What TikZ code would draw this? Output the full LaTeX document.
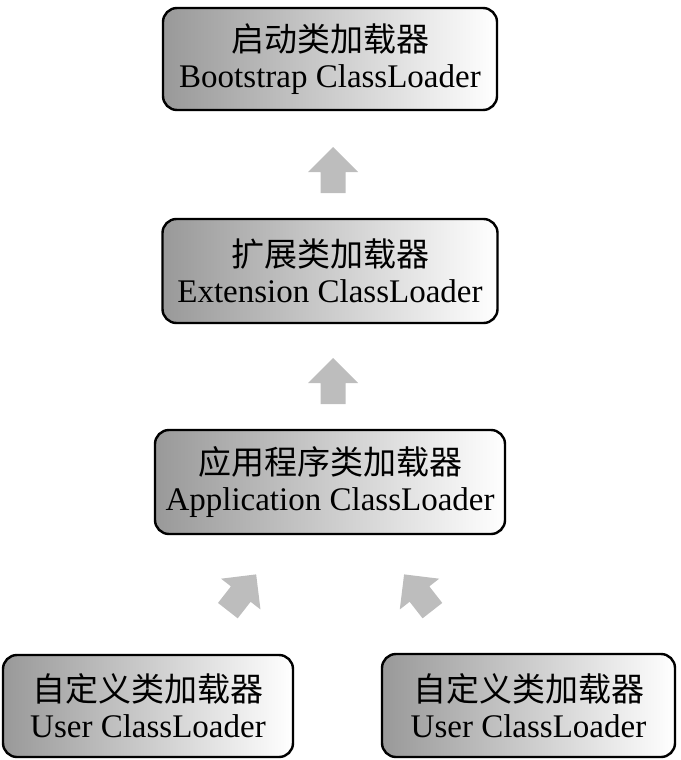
\documentclass[tikz,border=0pt]{standalone}
\usepackage{fontspec}
\setmainfont{Liberation Serif}
\newfontfamily\cjk{Noto Sans CJK SC}
\usetikzlibrary{calc,shadows}
\definecolor{arrowgray}{HTML}{BDBDBD}
\tikzset{
  loader/.style={draw=black, line width=2.4pt, rounded corners=14pt,
    left color=black!40, right color=white,
    drop shadow={opacity=0.18, shadow xshift=1.2pt, shadow yshift=-1.2pt},
    align=center, inner sep=0pt,
    font=\fontsize{33}{36}\selectfont},
  upblock/.pic={
    \fill[arrowgray] (-12.5,23) -- (-12.5,2) -- (-25,2) -- (0,-23)
      -- (25,2) -- (12.5,2) -- (12.5,23) -- cycle;
  }
}
\begin{document}
\begin{tikzpicture}[x=1pt, y=-1pt]
  \useasboundingbox (0,0) rectangle (680,760);

  % class loader hierarchy
  \node[loader, minimum width=334pt, minimum height=102pt] (b1) at (330,59)
    {{\cjk 启动类加载器}\\Bootstrap ClassLoader};
  \node[loader, minimum width=335pt, minimum height=104pt] (b2) at (330,271)
    {{\cjk 扩展类加载器}\\Extension ClassLoader};
  \node[loader, minimum width=350pt, minimum height=104pt] (b3) at (330,482)
    {{\cjk 应用程序类加载器}\\Application ClassLoader};
  \node[loader, minimum width=290pt, minimum height=102pt] (b4) at (148,706)
    {{\cjk 自定义类加载器}\\User ClassLoader};
  \node[loader, minimum width=293pt, minimum height=103pt] (b5) at (528.5,705.5)
    {{\cjk 自定义类加载器}\\User ClassLoader};

  % parent-delegation block arrows
  \path ($(b2.north)!0.5!(b1.south)$) ++(3,5.5) pic {upblock};
  \path ($(b3.north)!0.5!(b2.south)$) ++(3,4.5) pic {upblock};
  \path ($(b4.north)!0.5!(b3.south)$) ++(3,-2) pic[rotate=-38] {upblock};
  \path ($(b5.north)!0.5!(b3.south)$) ++(-11,-1.5) pic[rotate=38] {upblock};
\end{tikzpicture}
\end{document}
